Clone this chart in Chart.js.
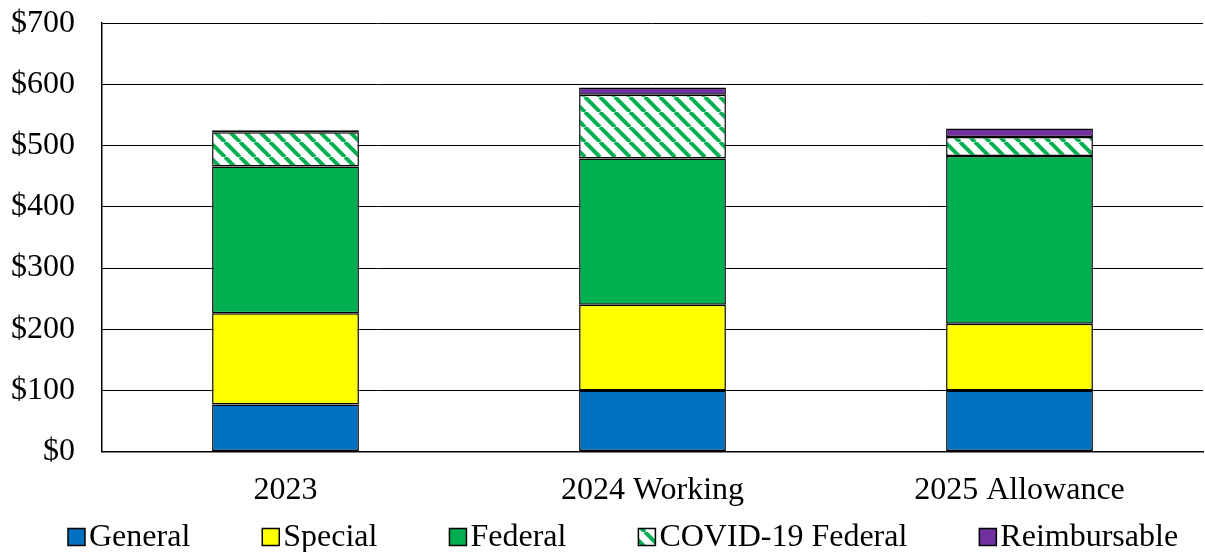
<!DOCTYPE html>
<html>
<head>
<meta charset="utf-8">
<script src="https://cdn.jsdelivr.net/npm/chart.js@4"></script>
<style>
  html, body { margin: 0; padding: 0; background: #fff; }
  #wrap { width: 1205px; height: 552px; overflow: hidden; position: relative; }
  #c { position: absolute; left: 0; top: -23px; }
</style>
</head>
<body>
<div id="wrap"><canvas id="c" width="1205" height="575"></canvas></div>
<script>
const categories = ['2023', '2024 Working', '2025 Allowance'];
const generalVals = [77, 100, 100];
const specialVals = [149, 140, 109];
const federalVals = [240, 239, 274];
const covidVals = [56, 104, 31];
const reimbVals = [3, 12, 14];
const yTicks = [0, 100, 200, 300, 400, 500, 600, 700];

function hatch() {
  const s = 15;
  const c = document.createElement('canvas');
  c.width = s; c.height = s;
  const g = c.getContext('2d');
  g.fillStyle = '#ffffff';
  g.fillRect(0, 0, s, s);
  g.strokeStyle = '#00B050';
  g.lineWidth = 4;
  for (const off of [-s, 0, s]) {
    g.beginPath();
    g.moveTo(off, 0);
    g.lineTo(off + s, s);
    g.stroke();
  }
  return g.createPattern(c, 'repeat');
}
const hatchPattern = hatch();

const fontFamily = '"Liberation Serif", "Times New Roman", serif';
const font = { family: fontFamily, size: 32 };

const mk = (label, data, color) => ({
  label, data, backgroundColor: color, borderColor: '#000', borderWidth: 1.5,
  borderSkipped: false, barPercentage: 0.4, categoryPercentage: 1.0
});

const legendPlugin = {
  id: 'bottomLegend',
  afterDraw(chart) {
    const ctx = chart.ctx;
    ctx.save();
    ctx.font = '32px ' + fontFamily;
    ctx.textBaseline = 'middle';
    const box = 17, gapText = 4, gapItem = 72;
    const y = 560;
    let x = 68;
    chart.data.datasets.forEach(d => {
      ctx.fillStyle = d.backgroundColor;
      ctx.fillRect(x, y - box / 2, box, box);
      ctx.strokeStyle = '#000';
      ctx.lineWidth = 1.5;
      ctx.strokeRect(x, y - box / 2, box, box);
      x += box + gapText;
      ctx.fillStyle = '#000';
      ctx.fillText(d.label, x, y + 1);
      x += ctx.measureText(d.label).width + gapItem;
    });
    ctx.restore();
  }
};

new Chart(document.getElementById('c'), {
  type: 'bar',
  data: {
    labels: categories,
    datasets: [
      mk('General', generalVals, '#0070C0'),
      mk('Special', specialVals, '#FFFF00'),
      mk('Federal', federalVals, '#00B050'),
      mk('COVID-19 Federal', covidVals, hatchPattern),
      mk('Reimbursable', reimbVals, '#7030A0')
    ]
  },
  plugins: [legendPlugin],
  options: {
    responsive: false,
    animation: false,
    layout: { padding: { top: 0, right: 2, left: 0, bottom: 30 } },
    plugins: {
      tooltip: { enabled: false },
      legend: { display: false }
    },
    scales: {
      x: {
        stacked: true,
        grid: { display: false },
        border: { display: true, color: '#000', width: 1.5 },
        ticks: { font, color: '#000', padding: 12 }
      },
      y: {
        stacked: true,
        min: 0, max: 700,
        afterBuildTicks(axis) { axis.ticks = yTicks.map(v => ({ value: v })); },
        afterFit(axis) { axis.width = 102; },
        grid: { color: '#000', lineWidth: 1, drawTicks: false },
        border: { display: true, color: '#000', width: 1.5 },
        ticks: { font, color: '#000', padding: 27, callback: v => '$' + v }
      }
    }
  }
});
</script>
</body>
</html>
